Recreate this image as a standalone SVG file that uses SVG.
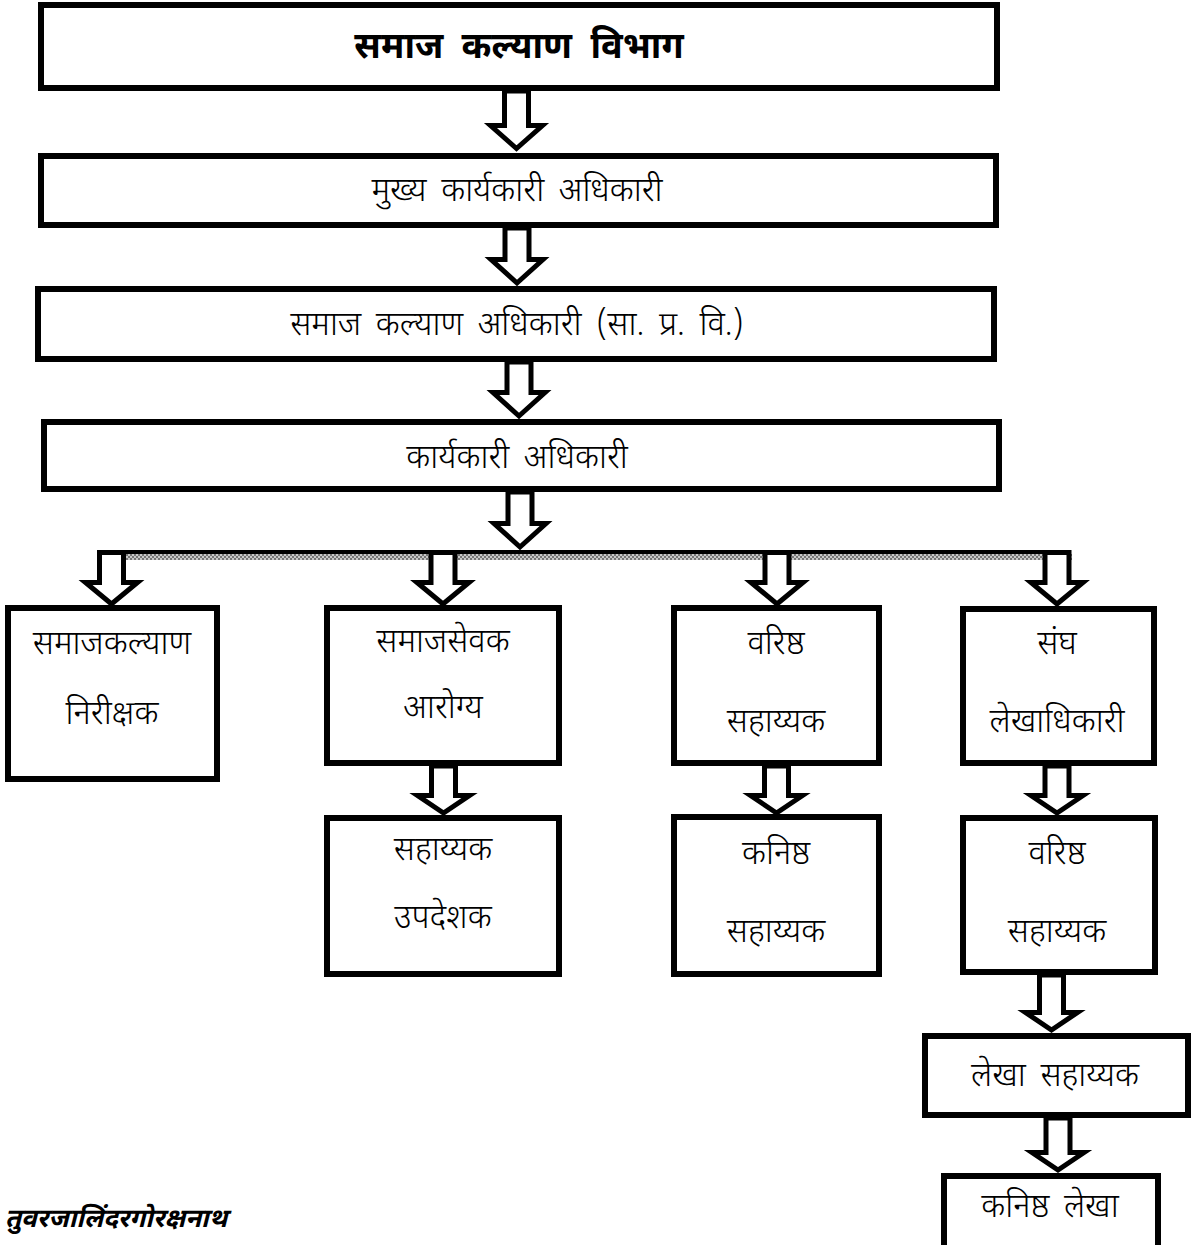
<svg xmlns="http://www.w3.org/2000/svg" width="1199" height="1245" viewBox="0 0 1199 1245">
<style>
.box{fill:#fff;stroke:#000;stroke-width:6}
.arr{fill:#fff;stroke:#000;stroke-width:5;stroke-linejoin:miter}
text{font-family:"Noto Sans Devanagari","Noto Sans","Lohit Devanagari","Mangal",sans-serif;font-size:33px;font-weight:300;fill:#000;text-anchor:middle;word-spacing:6px}
.title{font-size:36px;font-weight:bold;word-spacing:9px}
.foot{font-size:26px;font-weight:bold;font-style:italic;text-anchor:start}
</style>
<defs>
<pattern id="dots" width="4" height="4" patternUnits="userSpaceOnUse">
<rect width="4" height="4" fill="#c8c8c8"/>
<rect width="2" height="2" fill="#777"/>
<rect x="2" y="2" width="2" height="2" fill="#777"/>
</pattern>
</defs>
<g id="connectors">
<rect x="125" y="554" width="947" height="6" fill="url(#dots)"/>
<rect x="125" y="550" width="918" height="4" fill="#000"/>
<polygon class="arr" points="504.5,91 504.5,125.5 490.5,125.5 516.5,148.5 542.5,125.5 528.5,125.5 528.5,91"/>
<polygon class="arr" points="505,228 505,259.5 491,259.5 517,283 543,259.5 529,259.5 529,228"/>
<polygon class="arr" points="507,362 507,392.5 493,392.5 519,416 545,392.5 531,392.5 531,362"/>
<polygon class="arr" points="508,492 508,523.5 494,523.5 520,547 546,523.5 532,523.5 532,492"/>
<polygon class="arr" points="99.5,552.5 99.5,582.5 85.5,582.5 111.5,604 137.5,582.5 123.5,582.5 123.5,552.5"/>
<polygon class="arr" points="431,552.5 431,582.5 417,582.5 443,604 469,582.5 455,582.5 455,552.5"/>
<polygon class="arr" points="765,552.5 765,582.5 751,582.5 777,604 803,582.5 789,582.5 789,552.5"/>
<polygon class="arr" points="1045,552.5 1045,582.5 1031,582.5 1057,604 1083,582.5 1069,582.5 1069,552.5"/>
<polygon class="arr" points="431.5,766 431.5,795.5 417.5,795.5 443.5,813 469.5,795.5 455.5,795.5 455.5,766"/>
<polygon class="arr" points="764.5,766 764.5,795.5 750.5,795.5 776.5,813 802.5,795.5 788.5,795.5 788.5,766"/>
<polygon class="arr" points="1045,766 1045,795.5 1031,795.5 1057,813 1083,795.5 1069,795.5 1069,766"/>
<polygon class="arr" points="1039.5,975 1039.5,1012.5 1025.5,1012.5 1051.5,1030 1077.5,1012.5 1063.5,1012.5 1063.5,975"/>
<polygon class="arr" points="1046,1118 1046,1152.5 1032,1152.5 1058,1170 1084,1152.5 1070,1152.5 1070,1118"/>
</g>
<g id="n-main"><rect class="box" x="41" y="5" width="956" height="83"/><text class="title" x="519" y="58">समाज कल्याण विभाग</text></g>
<g id="n-ceo"><rect class="box" x="41" y="156" width="955" height="69"/><text x="517" y="201">मुख्य कार्यकारी अधिकारी</text></g>
<g id="n-swo"><rect class="box" x="38" y="289" width="956" height="70"/><text x="517" y="335">समाज कल्याण अधिकारी (सा. प्र. वि.)</text></g>
<g id="n-exec"><rect class="box" x="44" y="422" width="955" height="67"/><text x="517" y="468">कार्यकारी अधिकारी</text></g>
<g id="n-inspector"><rect class="box" x="8" y="608" width="209" height="171"/><text x="112" y="654">समाजकल्याण</text><text x="112" y="724">निरीक्षक</text></g>
<g id="n-social"><rect class="box" x="327" y="608" width="232" height="155"/><text x="443" y="652">समाजसेवक</text><text x="443" y="718">आरोग्य</text></g>
<g id="n-advisor"><rect class="box" x="327" y="818" width="232" height="156"/><text x="443" y="860">सहाय्यक</text><text x="443" y="928">उपदेशक</text></g>
<g id="n-senior"><rect class="box" x="674" y="608" width="205" height="155"/><text x="776" y="654">वरिष्ठ</text><text x="776" y="732">सहाय्यक</text></g>
<g id="n-junior"><rect class="box" x="674" y="817" width="205" height="157"/><text x="776" y="864">कनिष्ठ</text><text x="776" y="942">सहाय्यक</text></g>
<g id="n-accounts"><rect class="box" x="963" y="609" width="191" height="154"/><text x="1057" y="654">संघ</text><text x="1057" y="732">लेखाधिकारी</text></g>
<g id="n-acc-senior"><rect class="box" x="963" y="818" width="192" height="154"/><text x="1057" y="864">वरिष्ठ</text><text x="1057" y="942">सहाय्यक</text></g>
<g id="n-acc-asst"><rect class="box" x="925" y="1036" width="263" height="79"/><text x="1055" y="1086">लेखा सहाय्यक</text></g>
<g id="n-acc-junior"><rect class="box" x="944" y="1176" width="214" height="100"/><text x="1050" y="1217">कनिष्ठ लेखा</text></g>
<text class="foot" x="5" y="1227">तुवरजालिंदरगोरक्षनाथ</text>
</svg>
